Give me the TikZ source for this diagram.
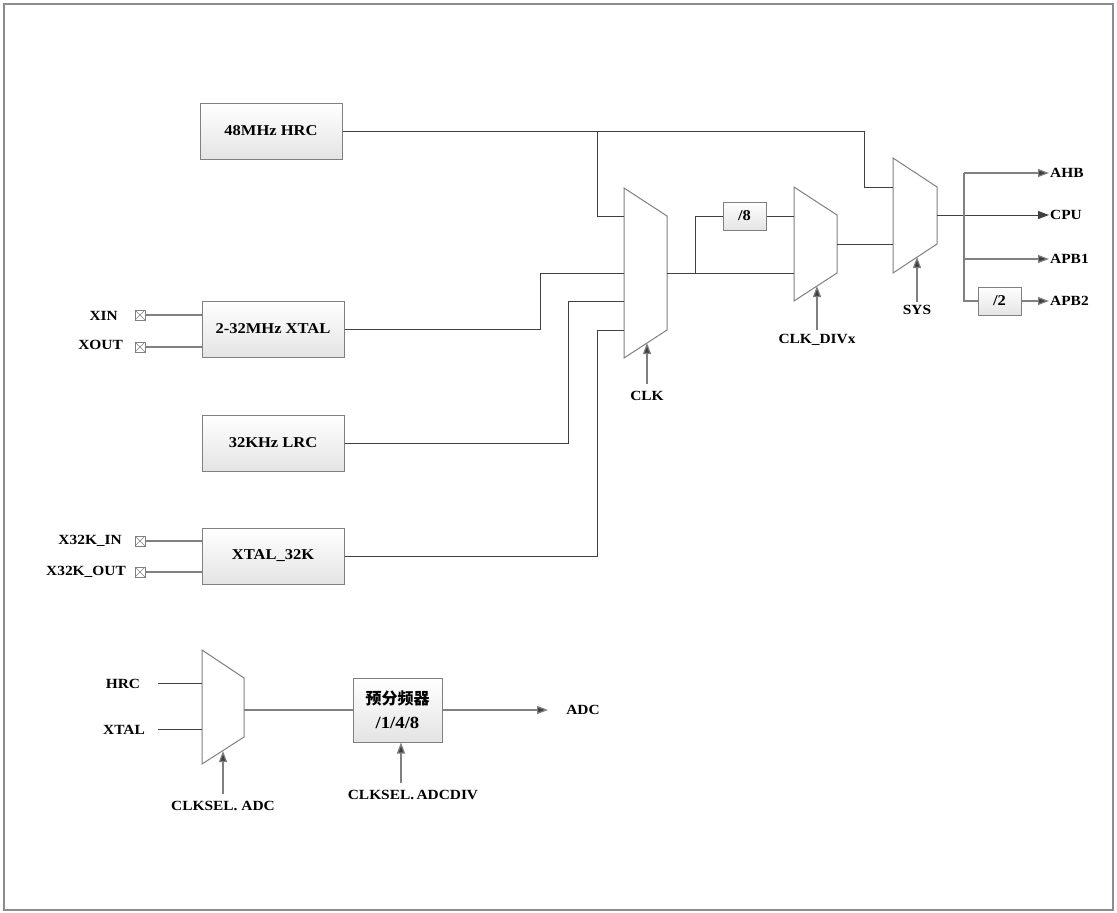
\documentclass[tikz,border=0pt]{standalone}
\usepackage{fontspec}
\setmainfont{Liberation Serif}[FakeStretch=1.1]
\newfontfamily\cjk{Noto Sans CJK SC}
\usetikzlibrary{arrows.meta}
\definecolor{wirec}{HTML}{404040}
\definecolor{boxc}{HTML}{808080}
\definecolor{boxg}{HTML}{E4E4E4}
\definecolor{framec}{HTML}{8C8C8C}
\definecolor{tipc}{HTML}{404040}
\begin{document}
\begin{tikzpicture}[x=1pt,y=-1pt,
  wire/.style={draw=wirec, line width=1pt},
  gwire/.style={draw=boxc, line width=1.2pt},
  arr/.style={draw=boxc, line width=1.2pt, -{Triangle[length=11pt,width=8pt,fill=tipc]}},
  blk/.style={draw=boxc, line width=1pt, top color=white, bottom color=boxg,
    minimum width=142pt, minimum height=56pt, inner sep=0pt,
    font=\bfseries\fontsize{15}{17}\selectfont},
  sblk/.style={blk, minimum width=43pt, minimum height=28pt},
  muxs/.style={draw=boxc, line width=1pt, fill=white},
  lab/.style={font=\bfseries\fontsize{14}{16}\selectfont, inner sep=1pt},
  pin/.style={draw=boxc, line width=0.8pt, minimum size=10pt, inner sep=0pt, fill=white,
    path picture={\draw[boxc,line width=0.6pt] (path picture bounding box.north west)--(path picture bounding box.south east)
      (path picture bounding box.north east)--(path picture bounding box.south west);}}
]
\useasboundingbox (0,0) rectangle (1117,913);
\draw[framec, line width=2pt] (4,4) rectangle (1113,910);

% source blocks
\node[blk] (hrc) at (271,131) {48MHz HRC};
\node[blk] (xtal) at (273,329) {2-32MHz XTAL};
\node[blk] (lrc) at (273,443) {32KHz LRC};
\node[blk] (x32) at (273,556) {XTAL\_32K};
\node[sblk] (div8) at (744.5,216) {/8};
\node[sblk] (div2) at (999.5,301) {/2};
\node[blk, minimum width=89pt, minimum height=64pt, align=center, font=\bfseries\fontsize{17}{24}\selectfont] (pre) at (397.5,710) {{\cjk\fontsize{16}{24}\selectfont 预分频器}\\/1/4/8};

% pins
\node[pin] (pxin) at (140,315) {};
\node[pin] (pxout) at (140,347) {};
\node[pin] (p32in) at (140,541) {};
\node[pin] (p32out) at (140,572) {};
\node[lab, anchor=east] (lxin) at (119,316) {XIN};
\node[lab, anchor=east] (lxout) at (124,345) {XOUT};
\node[lab, anchor=east] (l32in) at (123,541) {X32K\_IN};
\node[lab, anchor=east] (l32out) at (127,572) {X32K\_OUT};
\draw[gwire] (pxin.east) -- (pxin.east -| xtal.west);
\draw[gwire] (pxout.east) -- (pxout.east -| xtal.west);
\draw[gwire] (p32in.east) -- (p32in.east -| x32.west);
\draw[gwire] (p32out.east) -- (p32out.east -| x32.west);

% muxes
\draw[muxs] (624,188) -- (667,216) -- (667,330) -- (624,358) -- cycle;
\draw[muxs] (794,187) -- (837,215) -- (837,273) -- (794,301) -- cycle;
\draw[muxs] (893,158) -- (937,187) -- (937,244) -- (893,273) -- cycle;
\draw[muxs] (202,650) -- (244,678) -- (244,737) -- (202,764) -- cycle;
\coordinate (m1a) at (624,216);
\coordinate (m1b) at (624,273);
\coordinate (m1c) at (624,301);
\coordinate (m1d) at (624,330);
\coordinate (m1o) at (667,273);
\coordinate (m1s) at (647,343);
\coordinate (m2a) at (794,216);
\coordinate (m2b) at (794,273);
\coordinate (m2o) at (837,244);
\coordinate (m2s) at (817,286);
\coordinate (m3a) at (893,187);
\coordinate (m3b) at (893,244);
\coordinate (m3o) at (937,215);
\coordinate (m3s) at (917,257);
\coordinate (m4a) at (202,683);
\coordinate (m4b) at (202,729);
\coordinate (m4o) at (244,710);
\coordinate (m4s) at (223,751);

% wiring
\draw[wire] (hrc.east) -- (864,131) -- (864,187) -- (m3a);
\draw[wire] (597,131) -- (597,216) -- (m1a);
\draw[wire] (xtal.east) -- (540,329) -- (540,273) -- (m1b);
\draw[wire] (lrc.east) -- (568,443) -- (568,301) -- (m1c);
\draw[wire] (x32.east) -- (597,556) -- (597,330) -- (m1d);
\draw[wire] (m1o) -- (m2b);
\draw[wire] (695,273) -- (695,216) -- (div8.west);
\draw[wire] (div8.east) -- (m2a);
\draw[wire] (m2o) -- (m3b);

% outputs
\node[lab, anchor=west] (ahb) at (1049,173) {AHB};
\node[lab, anchor=west] (cpu) at (1049,215) {CPU};
\node[lab, anchor=west] (apb1) at (1049,259) {APB1};
\node[lab, anchor=west] (apb2) at (1049,301) {APB2};
\draw[wire, -{Triangle[length=11pt,width=8pt,fill=tipc]}] (m3o) -- (cpu.west);
\draw[gwire] (964,173) -- (964,301) -- (div2.west);
\draw[arr] (964,173) -- (ahb.west);
\draw[arr] (964,259) -- (apb1.west);
\draw[arr] (div2.east) -- (apb2.west);

% select signals
\node[lab] (lclk) at (647,396) {CLK};
\node[lab] (ldiv) at (817,340) {CLK\_DIVx};
\node[lab] (lsys) at (917,310) {SYS};
\draw[arr] (647,384) -- (m1s);
\draw[arr] (817,330) -- (m2s);
\draw[arr] (917,302) -- (m3s);

% ADC section
\node[lab] (lhrc) at (123,684) {HRC};
\node[lab] (lxt) at (124,730) {XTAL};
\draw[wire] (158,683) -- (m4a);
\draw[wire] (158,729) -- (m4b);
\draw[gwire] (m4o) -- (pre.west);
\coordinate (adcend) at (548,710);
\draw[arr] (pre.east) -- (adcend);
\node[lab] (ladc) at (583,710) {ADC};
\node[lab] (lsel) at (223,806) {CLKSEL. ADC};
\node[lab] (lseld) at (413,795) {CLKSEL.\,ADCDIV};
\draw[arr] (223,794) -- (m4s);
\draw[arr] (401,783) -- (pre.south -| 401,741);
\end{tikzpicture}
\end{document}
